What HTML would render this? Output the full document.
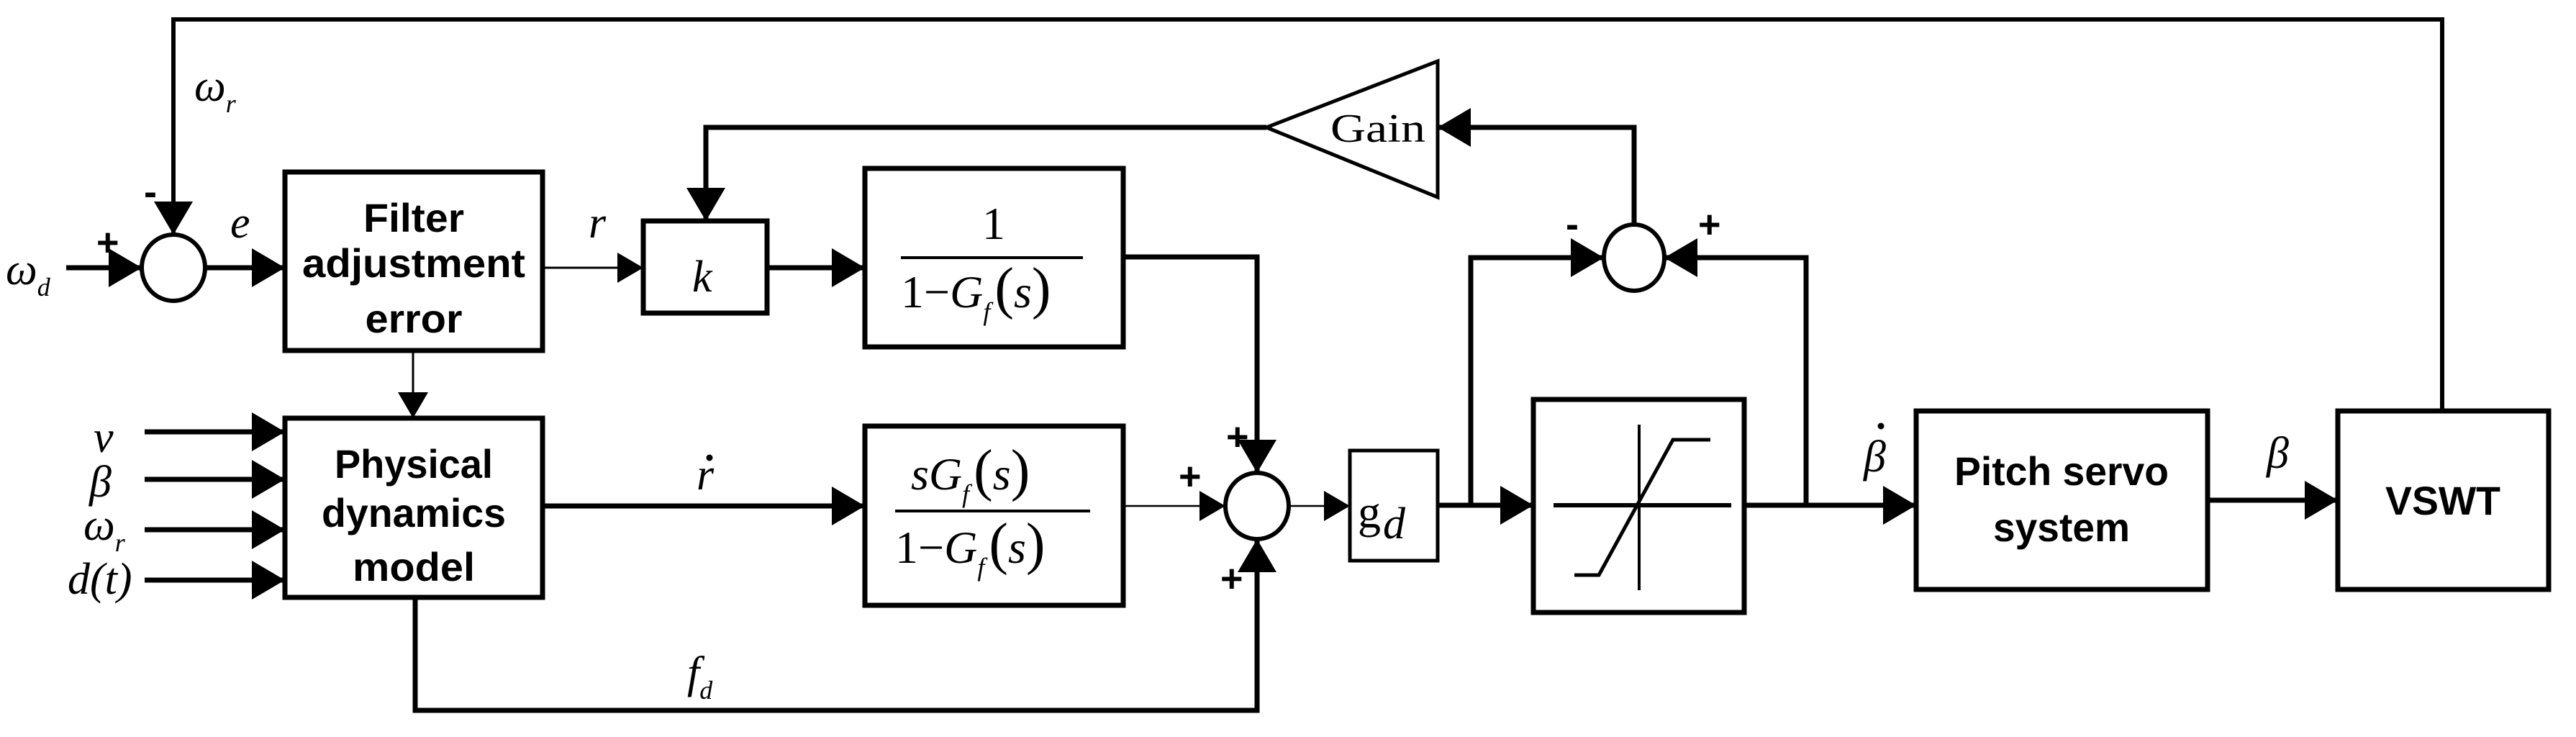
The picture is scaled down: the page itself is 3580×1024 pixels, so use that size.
<!DOCTYPE html>
<html><head><meta charset="utf-8"><style>
html,body{margin:0;padding:0;background:#fff;width:3580px;height:1024px;overflow:hidden}
svg{display:block}
.b{font-family:"Liberation Sans",sans-serif;font-weight:bold;font-size:56px;text-anchor:middle}
.m{font-family:"Liberation Serif",serif;font-style:italic;font-size:62px}
.n{font-family:"Liberation Serif",serif;font-size:64px}
.s{font-family:"Liberation Sans",sans-serif;font-weight:bold;font-size:54px}
</style></head><body>
<svg width="3580" height="1024" viewBox="0 0 3580 1024" xmlns="http://www.w3.org/2000/svg">
<defs>
<marker id="A" markerUnits="userSpaceOnUse" markerWidth="46" markerHeight="54" refX="46" refY="27" orient="auto"><path d="M0,0 L46,27 L0,54 z" fill="#000"/></marker>
<marker id="a" markerUnits="userSpaceOnUse" markerWidth="36" markerHeight="42" refX="36" refY="21" orient="auto"><path d="M0,0 L36,21 L0,42 z" fill="#000"/></marker>
</defs>
<g fill="none" stroke="#000" stroke-width="7">
<rect x="396" y="239" width="358" height="248"/>
<rect x="894" y="307" width="172" height="128"/>
<rect x="1202" y="234" width="359" height="248"/>
<rect x="396" y="581" width="358" height="249"/>
<rect x="1202" y="592" width="359" height="249"/>
<rect x="1876" y="626" width="122" height="153" stroke-width="5"/>
<rect x="2131" y="555" width="293" height="296"/>
<rect x="2663" y="571" width="405" height="248"/>
<rect x="3249" y="571" width="293" height="248"/>
<ellipse cx="241" cy="372" rx="44" ry="46" stroke-width="6"/>
<ellipse cx="1747" cy="703" rx="44" ry="46" stroke-width="6"/>
<ellipse cx="2271" cy="358" rx="42" ry="46" stroke-width="6"/>
<polygon points="1998,85 1998,274 1760,177" stroke-width="5"/>
<line x1="2159" y1="702" x2="2406" y2="702" stroke-width="6"/>
<line x1="2278" y1="590" x2="2278" y2="820" stroke-width="4"/>
<polyline points="2188,799 2222,799 2325,611 2377,611" stroke-width="5"/>
<polyline points="3394,571 3394,27 241,27 241,326" marker-end="url(#A)" stroke-width="6"/>
<line x1="92" y1="372" x2="197" y2="372" marker-end="url(#A)"/>
<line x1="285" y1="372" x2="396" y2="372" marker-end="url(#A)"/>
<line x1="754" y1="372" x2="894" y2="372" stroke-width="3" marker-end="url(#a)"/>
<line x1="1066" y1="372" x2="1202" y2="372" marker-end="url(#A)"/>
<line x1="574" y1="487" x2="574" y2="581" stroke-width="3" marker-end="url(#a)"/>
<line x1="201" y1="600" x2="396" y2="600" marker-end="url(#A)"/>
<line x1="201" y1="666" x2="396" y2="666" marker-end="url(#A)"/>
<line x1="201" y1="736" x2="396" y2="736" marker-end="url(#A)"/>
<line x1="201" y1="806" x2="396" y2="806" marker-end="url(#A)"/>
<line x1="754" y1="703" x2="1202" y2="703" marker-end="url(#A)"/>
<line x1="1561" y1="703" x2="1703" y2="703" stroke-width="2.5" marker-end="url(#a)"/>
<polyline points="1561,357 1747,357 1747,657" marker-end="url(#A)"/>
<polyline points="577,830 577,987 1747,987 1747,749" marker-end="url(#A)"/>
<line x1="1791" y1="703" x2="1876" y2="703" stroke-width="2.5" marker-end="url(#a)"/>
<line x1="1998" y1="702" x2="2131" y2="702" marker-end="url(#A)"/>
<polyline points="2044,702 2044,358 2229,358" marker-end="url(#A)"/>
<line x1="2424" y1="702" x2="2663" y2="702" marker-end="url(#A)"/>
<polyline points="2510,702 2510,358 2313,358" marker-end="url(#A)"/>
<polyline points="2271,312 2271,177 1998,177" marker-end="url(#A)"/>
<polyline points="1760,177 981,177 981,307" marker-end="url(#A)"/>
<line x1="3068" y1="695" x2="3249" y2="695" marker-end="url(#A)"/>
<line x1="1252" y1="358" x2="1505" y2="358" stroke-width="4"/>
<line x1="1244" y1="710" x2="1515" y2="710" stroke-width="4"/>
</g>
<circle cx="986" cy="636" r="4.5" fill="#000"/>
<circle cx="2614" cy="592" r="4.5" fill="#000"/>
<text class="b" x="575" y="322" textLength="140" lengthAdjust="spacingAndGlyphs">Filter</text>
<text class="b" x="575" y="385" textLength="310" lengthAdjust="spacingAndGlyphs">adjustment</text>
<text class="b" x="575" y="462" textLength="135" lengthAdjust="spacingAndGlyphs">error</text>
<text class="b" x="575" y="664" textLength="220" lengthAdjust="spacingAndGlyphs">Physical</text>
<text class="b" x="575" y="732" textLength="256" lengthAdjust="spacingAndGlyphs">dynamics</text>
<text class="b" x="575" y="807" textLength="170" lengthAdjust="spacingAndGlyphs">model</text>
<text class="b" x="2865" y="674" textLength="298" lengthAdjust="spacingAndGlyphs">Pitch servo</text>
<text class="b" x="2865" y="752" textLength="190" lengthAdjust="spacingAndGlyphs">system</text>
<text class="b" x="3395" y="715" textLength="160" lengthAdjust="spacingAndGlyphs">VSWT</text>
<text class="m" x="962" y="405" font-size="66">k</text>
<text x="1849" y="197" font-family="Liberation Serif,serif" font-size="56" textLength="132" lengthAdjust="spacingAndGlyphs">Gain</text>
<text class="n" x="1887" y="733">g</text><text class="m" x="1922" y="748" font-size="34">d</text>
<text class="n" x="1365" y="332">1</text>
<text class="n" x="1252" y="427">1−<tspan font-style="italic">G</tspan><tspan font-style="italic" font-size="36" dy="18">f</tspan><tspan dy="-18" font-size="80" dx="6">(</tspan><tspan font-style="italic">s</tspan><tspan font-size="80">)</tspan></text>
<text class="n" x="1266" y="680"><tspan font-style="italic">sG</tspan><tspan font-style="italic" font-size="36" dy="18">f</tspan><tspan dy="-18" font-size="80" dx="6">(</tspan><tspan font-style="italic">s</tspan><tspan font-size="80">)</tspan></text>
<text class="n" x="1244" y="782">1−<tspan font-style="italic">G</tspan><tspan font-style="italic" font-size="36" dy="18">f</tspan><tspan dy="-18" font-size="80" dx="6">(</tspan><tspan font-style="italic">s</tspan><tspan font-size="80">)</tspan></text>
<text class="m" x="270" y="140">ω<tspan font-size="36" dy="16">r</tspan></text>
<text class="m" x="8" y="395">ω<tspan font-size="36" dy="16">d</tspan></text>
<text class="m" x="320" y="330">e</text>
<text class="m" x="818" y="330">r</text>
<text class="m" x="968" y="680">r</text>
<text class="m" x="955" y="955">f<tspan font-size="36" dy="16">d</tspan></text>
<text class="m" x="130" y="628">v</text>
<text class="m" x="124" y="690">β</text>
<text class="m" x="116" y="750">ω<tspan font-size="36" dy="16">r</tspan></text>
<text class="m" x="94" y="825">d(t)</text>
<text class="m" x="2590" y="655">β</text>
<text class="m" x="3150" y="650">β</text>
<text class="s" x="200" y="285">-</text>
<text class="s" x="134" y="355">+</text>
<text class="s" x="1704" y="625">+</text>
<text class="s" x="1638" y="680">+</text>
<text class="s" x="1696" y="822">+</text>
<text class="s" x="2176" y="330">-</text>
<text class="s" x="2360" y="330">+</text>
</svg>
</body></html>
